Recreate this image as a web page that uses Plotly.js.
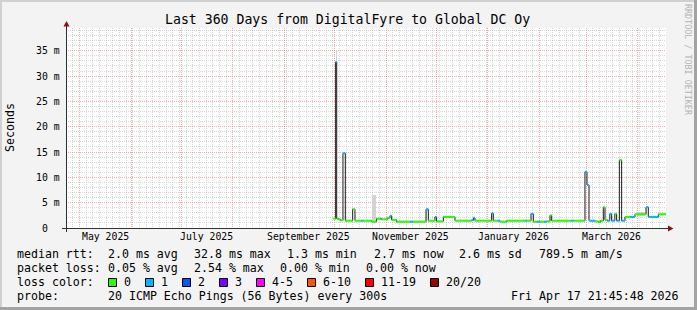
<!DOCTYPE html>
<html><head><meta charset="utf-8">
<script src="https://cdn.plot.ly/plotly-3.0.1.min.js"></script>
<style>html,body{margin:0;padding:0;background:#f3f3f3;}#chart{width:697px;height:310px;}</style>
</head><body><div id="chart"></div>
<script>
// ---------- data ----------
const graphStart = "2025-04-22 21:45:48";
const graphEnd   = "2026-04-17 21:45:48";

// median RTT step bins (each value holds until the next bin start)
const binStart = [
 "2025-09-30 10:00","2025-10-01 17:00","2025-10-02 08:00","2025-10-03 12:00","2025-10-04 12:00",
 "2025-10-06 02:00","2025-10-07 12:00","2025-10-11 22:00","2025-10-13 07:00","2025-10-16 22:00",
 "2025-10-17 19:00","2025-10-23 07:00","2025-10-26 07:00","2025-10-28 07:00","2025-10-29 05:00",
 "2025-11-01 17:00","2025-11-03 07:00","2025-11-04 07:00","2025-11-07 07:00","2025-11-15 07:00",
 "2025-11-17 02:00","2025-11-24 22:00","2025-11-26 07:00","2025-11-30 07:00","2025-12-01 07:00",
 "2025-12-05 07:00","2025-12-12 07:00","2025-12-22 07:00","2025-12-23 10:00","2025-12-24 07:00",
 "2026-01-03 07:00","2026-01-04 07:00","2026-01-07 02:00","2026-01-08 07:00","2026-01-12 07:00",
 "2026-01-23 07:00","2026-01-24 05:00","2026-01-26 22:00","2026-01-28 07:00","2026-01-30 12:00",
 "2026-02-01 07:00","2026-02-03 17:00","2026-02-05 07:00","2026-02-07 07:00","2026-02-08 07:00",
 "2026-02-20 02:00","2026-02-21 07:00","2026-02-28 07:00","2026-03-01 12:00","2026-03-02 17:00",
 "2026-03-06 07:00","2026-03-08 07:00","2026-03-09 12:00","2026-03-11 07:00","2026-03-12 07:00",
 "2026-03-13 17:00","2026-03-15 05:00","2026-03-16 07:00","2026-03-18 05:00","2026-03-19 07:00",
 "2026-03-20 22:00","2026-03-22 07:00","2026-03-24 07:00","2026-03-27 12:00","2026-03-30 07:00",
 "2026-04-05 22:00","2026-04-07 07:00","2026-04-13 07:00"
];
const medianMs = [
 1.85,32.8,1.85,1.7,1.5,
 14.75,1.45,3.7,1.45,1.45,
 1.45,1.25,1.85,1.85,1.7,
 2.0,2.4,1.6,1.25,1.25,
 1.25,3.7,1.45,2.2,1.3,
 2.2,1.45,1.55,2.0,1.45,
 2.9,1.45,1.45,1.25,1.45,
 1.45,1.45,2.8,1.25,1.25,
 1.25,1.25,1.3,2.5,1.45,
 1.45,1.45,11.1,8.5,1.45,
 1.3,1.15,1.45,4.1,1.6,
 1.45,2.8,1.45,2.8,1.45,
 13.4,1.45,2.2,2.2,2.7,
 4.1,2.2,2.7
];
const lossPings = [
 0,1,0,0,0,
 1,0,0,0,1,
 0,0,0,1,0,
 0,1,0,0,1,
 0,1,0,1,0,
 0,0,1,1,0,
 1,0,1,0,0,
 1,0,1,0,1,
 0,1,0,0,0,
 1,0,1,1,1,
 0,0,0,0,0,
 1,1,1,0,1,
 0,1,0,1,0,
 1,1,0
];

// smoke (spread of the individual pings)
const smokeStart = ["2025-10-01 17:00","2025-10-23 07:00","2026-03-31 12:00"];
const smokeEnd   = ["2025-10-02 05:00","2025-10-25 19:00","2026-04-05 12:00"];
const smokeLow   = [32.8, 1.2, 2.4];
const smokeHigh  = [35.0, 6.5, 3.2];

const lossLabels = ["0","1","2","3","4-5","6-10","11-19","20/20"];
const lossLow    = [0,1,2,3,4,6,11,20];
const lossHigh   = [0,1,2,3,5,10,19,20];
const lossColors = ["#26ff00","#00b8ff","#0059ff","#7e00ff","#ff00ff","#ff5500","#ff0000","#a10000"];

const yTickVals = [0,5,10,15,20,25,30,35];
const yTickText = ["0\u00a0\u00a0","5 m","10 m","15 m","20 m","25 m","30 m","35 m"];
const monthLabels = ["May 2025","July 2025","September 2025","November 2025","January 2026","March 2026"];
const monthLabelAt = ["2025-05-16 12:00","2025-07-16 12:00","2025-09-15 12:00","2025-11-15 12:00","2026-01-16 12:00","2026-03-16 12:00"];

const titleText = "Last 360 Days from DigitalFyre to Global DC Oy";
const rttStats  = ["2.0 ms avg","32.8 ms max","1.3 ms min","2.7 ms now","2.6 ms sd","789.5 m am/s"];
const lossStats = ["0.05 % avg","2.54 % max","0.00 % min","0.00 % now"];
const probeText = "20 ICMP Echo Pings (56 Bytes) every 300s";
const stampText = "Fri Apr 17 21:45:48 2026";

// ---------- layout helpers ----------
const L=66, T=28, W=600, H=200;
const px = x => (x-L)/W, py = y => (T+H-y)/H;
const toMs = s => Date.parse(s.replace(' ','T')+'Z');
const MONO = "DejaVu Sans Mono";

// ---------- traces ----------
const traces = [];
traces.push({
  type:'bar', x: smokeStart.map((s,i)=>(toMs(s)+toMs(smokeEnd[i]))/2),
  width: smokeStart.map((s,i)=>toMs(smokeEnd[i])-toMs(s)),
  base: smokeLow, y: smokeHigh.map((h,i)=>h-smokeLow[i]),
  marker:{color:'#d2d2d2', line:{width:0}}, hoverinfo:'skip'
});
traces.push({
  type:'scatter', mode:'lines', x: binStart.concat([graphEnd]),
  y: medianMs.concat([medianMs[medianMs.length-1]]),
  line:{shape:'hv', color:'#1a1a1a', width:1}, hoverinfo:'skip'
});
const ends = binStart.slice(1).concat([graphEnd]);
lossColors.forEach((c,k)=>{
  const xs=[], ys=[];
  binStart.forEach((t,i)=>{
    if (lossPings[i]>=lossLow[k] && lossPings[i]<=lossHigh[k]) {
      xs.push(t, ends[i], null); ys.push(medianMs[i], medianMs[i], null);
    }
  });
  traces.push({type:'scatter', mode:'lines', x:xs, y:ys, line:{color:c, width:2}, hoverinfo:'skip', connectgaps:false});
});

// ---------- annotations ----------
const ann = [];
const txt = (text, x, y, opts={}) => ann.push(Object.assign({
  text, x:px(x), y:py(y), xref:'paper', yref:'paper', showarrow:false,
  xanchor:'left', yanchor:'middle', borderpad:0,
  font:{family:MONO, size:11.6, color:'#000'}
}, opts));

txt(titleText, 347.5, 19, {xanchor:'center', font:{family:MONO,size:13.2,color:'#000'}});
txt("Seconds", 10, 128, {xanchor:'center', textangle:-90});
txt("RRDTOOL / TOBI OETIKER", 688, 60, {xanchor:'center', textangle:90, font:{family:MONO,size:8.4,color:'#b4b4b4'}});

yTickVals.forEach((v,i)=>ann.push({text:yTickText[i], x:px(60.5), y:v, xref:'paper', yref:'y',
  showarrow:false, xanchor:'right', yanchor:'middle', borderpad:0, font:{family:MONO,size:9.8,color:'#000'}}));
monthLabels.forEach((m,i)=>ann.push({text:m, x:monthLabelAt[i], y:py(236.7), xref:'x', yref:'paper',
  showarrow:false, xanchor:'center', yanchor:'middle', borderpad:0, font:{family:MONO,size:9.8,color:'#000'}}));

const rowY = [254.3, 268.3, 282.3, 296.3];
txt("median rtt:", 16, rowY[0]);
[107.3,193.3,285.7,372.7,457.5,538.3].forEach((x,i)=>txt(rttStats[i], x, rowY[0]));
txt("packet loss:", 16, rowY[1]);
[107.3,193.3,279.3,365].forEach((x,i)=>txt(lossStats[i], x, rowY[1]));
txt("loss color:", 16, rowY[2]);
const boxX = [108.5,145.5,182.5,219.5,256.5,307.5,365.5,430.5];
const labX = [123.3,160,197.3,234.3,270.7,321.7,380,445];
lossLabels.forEach((l,i)=>txt(l, labX[i], rowY[2]));
txt("probe:", 16, rowY[3]);
txt(probeText, 107.3, rowY[3]);
txt(stampText, 680, rowY[3], {xanchor:'right'});

// ---------- shapes ----------
const shapes = [];
const rect = (x0,y0,x1,y1,fill,line) => shapes.push({type:'rect', xref:'paper', yref:'paper',
  x0:px(x0), x1:px(x1), y0:py(y1), y1:py(y0), fillcolor:fill, line: line||{width:0}, layer:'above'});
// frame shading
rect(0,0,697,2,'#d0d0d0'); rect(0,0,2,310,'#d0d0d0');
rect(0,307,697,310,'#a3a3a3'); rect(694,0,697,310,'#a3a3a3');
// legend colour boxes
boxX.forEach((x,i)=>rect(x,278.5,x+8,286.5,lossColors[i],{color:'#000',width:1}));
// axes
const seg = (x0,y0,x1,y1,c) => shapes.push({type:'line', xref:'paper', yref:'paper',
  x0:px(x0), x1:px(x1), y0:py(y0), y1:py(y1), line:{color:c, width:1}, layer:'above'});
seg(62,228.5,669,228.5,'#303030');
seg(66.5,232,66.5,25,'#303030');
const path = pts => shapes.push({type:'path', xref:'paper', yref:'paper', layer:'above',
  path: 'M'+pts.map(p=>px(p[0])+','+py(p[1])).join(' L')+' Z', fillcolor:'#8b1010', line:{width:0}});
path([[673.5,228.5],[668,225.5],[668,231.5]]);
path([[66.5,21],[63.5,26.5],[69.5,26.5]]);

const layout = {
  width:697, height:310, autosize:false,
  margin:{l:L, r:697-L-W, t:T, b:310-T-H, pad:0},
  paper_bgcolor:'#f3f3f3', plot_bgcolor:'#ffffff',
  showlegend:false, bargap:0,
  xaxis:{type:'date', range:[graphStart, graphEnd], showticklabels:false, ticks:'',
    tickmode:'linear', tick0:'2025-05-01', dtick:'M1',
    showgrid:true, gridcolor:'rgba(225,90,90,0.5)', griddash:'1px,1px', gridwidth:1,
    minor:{tickmode:'linear', tick0:'2025-04-27', dtick:4*86400000, showgrid:true,
      gridcolor:'rgba(150,150,150,0.38)', griddash:'1px,1px', gridwidth:1, ticks:''},
    zeroline:false, showline:false, fixedrange:true},
  yaxis:{range:[0,39.5], showticklabels:false, ticks:'', tickmode:'linear', tick0:0, dtick:5,
    showgrid:true, gridcolor:'rgba(225,90,90,0.5)', griddash:'1px,1px', gridwidth:1,
    minor:{dtick:1, showgrid:true, gridcolor:'rgba(150,150,150,0.38)', griddash:'1px,1px', gridwidth:1, ticks:''},
    zeroline:false, showline:false, fixedrange:true},
  annotations: ann, shapes: shapes
};
Plotly.newPlot('chart', traces, layout, {staticPlot:true, displayModeBar:false});
</script></body></html>
